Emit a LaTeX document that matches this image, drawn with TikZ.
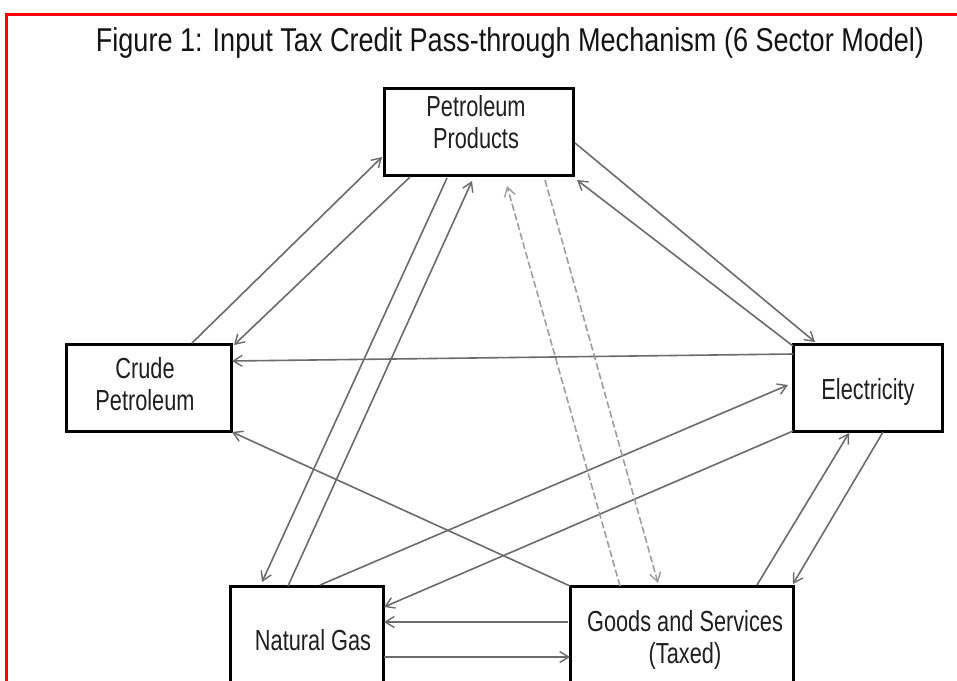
\documentclass[tikz,border=0pt]{standalone}
\usepackage{fontspec}
\setmainfont[FakeStretch=0.75]{Liberation Sans}
\newfontfamily\titlefont[FakeStretch=0.82]{Liberation Sans}
\usetikzlibrary{arrows.meta,calc}
\begin{document}
\begin{tikzpicture}[x=1pt,y=-1pt,
  box/.style={draw=black,line width=3pt,rectangle,inner sep=0pt,outer sep=0pt},
  lbl/.style={align=center,inner sep=0pt,font=\fontsize{29}{32}\selectfont,text=black!88},
  link/.style={draw=black!58,line width=1.6pt,-{Straight Barb[length=9pt,width=11pt,line width=1.4pt]}},
  dlink/.style={link,draw=black!38,dash pattern=on 7pt off 3pt}
]
\clip (0,0) rectangle (957,680);
\fill[white] (0,0) rectangle (957,680);
\draw[red,line width=3pt] (6,700) -- (6,14) -- (970,14);
\node[inner sep=0pt,font=\titlefont\fontsize{33}{36}\selectfont,text=black!92] (title) at (510,43) {Figure 1: Input Tax Credit Pass-through Mechanism (6 Sector Model)};

\node[box,minimum width=189pt,minimum height=87pt] (pp) at (478.5,131.5) {};
\node[box,minimum width=165pt,minimum height=87pt] (crude) at (148.5,387.5) {};
\node[box,minimum width=149pt,minimum height=87pt] (elec) at (867.5,387.5) {};
\node[box,minimum width=153pt,minimum height=114pt] (ng) at (306.5,643) {};
\node[box,minimum width=223pt,minimum height=114pt] (goods) at (681.5,643) {};

\node[lbl] (ppt) at (476,122) {Petroleum\\Products};
\node[lbl] (crudet) at (145,384) {Crude\\Petroleum};
\node[lbl] (elect) at (868,392) {Electricity};
\node[lbl] (ngt) at (313,640) {Natural Gas};
\node[lbl] (goodst) at (685,640) {Goods and Services\\(Taxed)};

% connectors
\draw[link] ($(crude.north west)+(126,-1)$) -- ($(pp.north west)+(-2,69)$);
\draw[link] ($(pp.south west)+(26,2)$) -- ($(crude.north east)+(3,1)$);
\draw[link] ($(pp.north east)+(2,55)$) -- ($(elec.north west)+(22,-2)$);
\draw[link] ($(elec.north west)+(0,2)$) -- ($(pp.south east)+(4,5)$);
\draw[link] ($(elec.north west)+(0,10)$) -- ($(crude.north east)+(1,17)$);
\draw[link] (goods.north west) -- ($(crude.south east)+(1,1)$);
\draw[link] ($(pp.south west)+(63,3)$) -- ($(ng.north west)+(32,-4)$);
\draw[link] ($(ng.north west)+(58,0)$) -- ($(pp.south west)+(88,6)$);
\draw[link] ($(ng.north west)+(90,-1)$) -- ($(elec.north west)+(-5,41)$);
\draw[link] (elec.south west) -- ($(ng.north east)+(1,21)$);
\draw[dlink] ($(goods.north west)+(50,0)$) -- ($(pp.south west)+(123,11)$);
\draw[dlink] ($(pp.south west)+(161,5)$) -- ($(goods.north west)+(88,-3)$);
\draw[link] ($(goods.north west)+(187,-1)$) -- ($(elec.south west)+(56,2)$);
\draw[link] ($(elec.south west)+(90,1)$) -- ($(goods.north east)+(0,-2)$);
\draw[link] ($(goods.north west)+(-2,36)$) -- ($(ng.north east)+(1,36)$);
\draw[link] ($(ng.north east)+(1,71)$) -- ($(goods.north west)+(0,71)$);
\end{tikzpicture}
\end{document}
